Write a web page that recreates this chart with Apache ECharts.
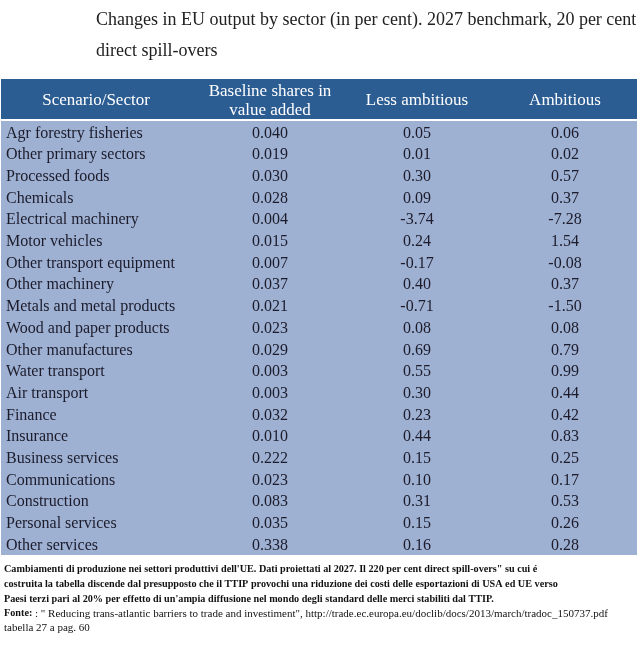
<!DOCTYPE html>
<html><head><meta charset="utf-8">
<script src="https://cdn.jsdelivr.net/npm/echarts@6/dist/echarts.min.js"></script>
<style>html,body{margin:0;padding:0;background:#fff}#c{width:640px;height:652px}</style>
</head><body><div id="c"></div>
<script>
var titleLines = ['Changes in EU output by sector (in per cent). 2027 benchmark, 20 per cent', 'direct spill-overs'];
var headers = ['Scenario/Sector', 'Baseline shares in\nvalue added', 'Less ambitious', 'Ambitious'];
var sectors = ['Agr forestry fisheries','Other primary sectors','Processed foods','Chemicals','Electrical machinery','Motor vehicles','Other transport equipment','Other machinery','Metals and metal products','Wood and paper products','Other manufactures','Water transport','Air transport','Finance','Insurance','Business services','Communications','Construction','Personal services','Other services'];
var baseline = [0.040,0.019,0.030,0.028,0.004,0.015,0.007,0.037,0.021,0.023,0.029,0.003,0.003,0.032,0.010,0.222,0.023,0.083,0.035,0.338];
var lessAmbitious = [0.05,0.01,0.30,0.09,-3.74,0.24,-0.17,0.40,-0.71,0.08,0.69,0.55,0.30,0.23,0.44,0.15,0.10,0.31,0.15,0.16];
var ambitious = [0.06,0.02,0.57,0.37,-7.28,1.54,-0.08,0.37,-1.50,0.08,0.79,0.99,0.44,0.42,0.83,0.25,0.17,0.53,0.26,0.28];
var noteLines = [
 "Cambiamenti di produzione nei settori produttivi dell'UE. Dati proiettati al 2027. Il 220 per cent direct spill-overs\" su cui é",
 "costruita la tabella discende dal presupposto che il TTIP provochi una riduzione dei costi delle esportazioni di USA ed UE verso",
 "Paesi terzi pari al 20% per effetto di un'ampia diffusione nel mondo degli standard delle merci stabiliti dal TTIP."
];
var sourceLabel = 'Fonte:';
var sourceText = ': " Reducing trans-atlantic barriers to trade and investiment", http://trade.ec.europa.eu/doclib/docs/2013/march/tradoc_150737.pdf';
var sourceLine2 = 'tabella 27 a pag. 60';

// layout (styling, not data)
var colX = [4, 268, 415, 563];
var headerColX = [94, 268, 415, 563];
var SERIF = '"Liberation Serif","Times New Roman",serif';

var chart = echarts.init(document.getElementById('c'));
var bodyRows = sectors.map(function (s, i) {
  return [i, s, baseline[i].toFixed(3), lessAmbitious[i].toFixed(2), ambitious[i].toFixed(2)];
});
var rowIdx = sectors.map(function (s, i) { return String(i); });

chart.setOption({
  backgroundColor: '#ffffff',
  animation: false,
  title: [{
    text: titleLines.join('\n'),
    left: 91, top: 0,
    textStyle: { fontFamily: SERIF, fontSize: 18, fontWeight: 'normal', color: '#222', lineHeight: 31 }
  }, {
    text: noteLines.map(function (l) { return '{b|' + l + '}'; }).join('\n') +
      '\n{b|' + sourceLabel + '}{n| ' + sourceText + '}\n{n|' + sourceLine2 + '}',
    left: -1, top: 557,
    textStyle: {
      fontFamily: SERIF, fontSize: 11, color: '#111', lineHeight: 14.8,
      rich: {
        b: { fontFamily: SERIF, fontSize: 10.2, fontWeight: 'bold', color: '#111', lineHeight: 14.8 },
        n: { fontFamily: SERIF, fontSize: 11, fontWeight: 'normal', color: '#111', lineHeight: 14.8 }
      }
    }
  }],
  grid: [
    { left: 1, width: 636, top: 79, height: 40, show: true, backgroundColor: '#2b5c92', borderWidth: 0 },
    { left: 1, width: 636, top: 121, height: 434, show: true, backgroundColor: '#9fb1d2', borderWidth: 0 }
  ],
  xAxis: [
    { gridIndex: 0, type: 'value', min: -1, max: 635, show: false },
    { gridIndex: 1, type: 'value', min: -1, max: 635, show: false }
  ],
  yAxis: [
    { gridIndex: 0, type: 'category', data: ['h'], show: false },
    { gridIndex: 1, type: 'category', data: rowIdx, inverse: true, show: false }
  ],
  series: [{
    type: 'custom', xAxisIndex: 0, yAxisIndex: 0,
    data: [[0]],
    renderItem: function (params, api) {
      var children = headers.map(function (h, c) {
        var p = api.coord([headerColX[c], 0]);
        return { type: 'text', style: { x: p[0], y: p[1] + 2, text: h, textAlign: 'center', textVerticalAlign: 'middle',
          fill: '#ffffff', font: '17px ' + SERIF, lineHeight: 19 } };
      });
      return { type: 'group', children: children };
    }
  }, {
    type: 'custom', xAxisIndex: 1, yAxisIndex: 1,
    data: bodyRows,
    encode: { y: 0 },
    renderItem: function (params, api) {
      var r = api.value(0);
      var children = [];
      for (var c = 0; c < 4; c++) {
        var p = api.coord([colX[c], r]);
        children.push({ type: 'text', style: { x: p[0], y: p[1] + 1.5, text: bodyRows[params.dataIndex][c + 1],
          textAlign: c === 0 ? 'left' : 'center', textVerticalAlign: 'middle',
          fill: '#1b1b2b', font: '16px ' + SERIF } });
      }
      return { type: 'group', children: children };
    }
  }]
});
</script></body></html>
